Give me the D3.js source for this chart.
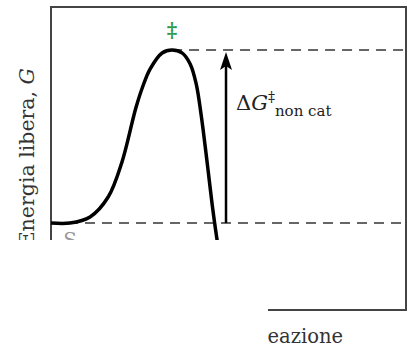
<!DOCTYPE html>
<html>
<head>
<meta charset="utf-8">
<script src="https://cdn.jsdelivr.net/npm/d3@7"></script>
<style>
    body { margin: 0; background: #fff; }
    svg { display: block; font-family: 'DejaVu Serif', 'Liberation Serif', serif; }
</style>
</head>
<body>
<div class="chart"></div>
<script>
// reaction coordinate (0-100) and free energy (S = 0, transition state = 100)
const coord = [0, 5.35, 11.0, 16.1, 20.0, 23.9, 25.9, 27.9, 31.3, 34.1, 36.9, 39.2, 40.9, 42.3, 43.9, 45.6, 47.0, 48.2];
const energy = [0, 0, 3.5, 15.0, 35.3, 66.5, 79.2, 89.0, 98.3, 100, 98.3, 91.9, 80.4, 62.4, 36.4, 7.5, -12.7, -27.2];
const levels = [0, 100];        // substrate level, transition state level
const arrowX = 49.3;            // where the ΔG arrow sits
const peakX = 34.1;

const W = 413, H = 354;
const x = d3.scaleLinear().domain([0, 100]).range([51, 406]);
const y = d3.scaleLinear().domain([0, 100]).range([223, 50]);

const svg = d3.select('.chart')
    .append('svg')
    .attr('width', W)
    .attr('height', H);

// the picture is cropped: everything below y=240 left of x=268 is gone
const clip = svg.append('defs').append('clipPath').attr('id', 'crop');
clip.append('rect').attr('x', 0).attr('y', 0).attr('width', W).attr('height', 240);
clip.append('rect').attr('x', 268).attr('y', 0).attr('width', W - 268).attr('height', H);

const g = svg.append('g').attr('clip-path', 'url(#crop)');

// frame
g.append('rect')
    .attr('x', x(0))
    .attr('y', 7)
    .attr('width', x(100) - x(0))
    .attr('height', 310 - 7)
    .attr('fill', 'none')
    .attr('stroke', '#444')
    .attr('stroke-width', 2);

// dashed energy levels
g.append('line')
    .attr('x1', x(0)).attr('x2', x(100))
    .attr('y1', y(levels[0])).attr('y2', y(levels[0]))
    .attr('stroke', '#666')
    .attr('stroke-width', 2)
    .attr('stroke-dasharray', '10,7');
g.append('line')
    .attr('x1', x(peakX)).attr('x2', x(100))
    .attr('y1', y(levels[1])).attr('y2', y(levels[1]))
    .attr('stroke', '#666')
    .attr('stroke-width', 2)
    .attr('stroke-dasharray', '10,7');

// energy profile
const line = d3.line()
    .x((d, i) => x(coord[i]))
    .y(d => y(d))
    .curve(d3.curveCatmullRom.alpha(0.5));
g.append('path')
    .attr('d', line(energy))
    .attr('fill', 'none')
    .attr('stroke', '#000')
    .attr('stroke-width', 3.5);

// ΔG arrow
g.append('line')
    .attr('x1', x(arrowX)).attr('x2', x(arrowX))
    .attr('y1', y(levels[0])).attr('y2', y(levels[1]) + 14)
    .attr('stroke', '#000')
    .attr('stroke-width', 2.5);
g.append('path')
    .attr('d', d3.line()([
        [x(arrowX), y(levels[1]) + 2],
        [x(arrowX) - 6, y(levels[1]) + 20],
        [x(arrowX), y(levels[1]) + 16],
        [x(arrowX) + 6, y(levels[1]) + 20]
    ]) + 'Z')
    .attr('fill', '#000');

// double dagger over the transition state
g.append('text')
    .attr('x', x(peakX))
    .attr('y', y(levels[1]) - 13)
    .attr('text-anchor', 'middle')
    .attr('fill', '#2e9a45')
    .style('font-size', '20px')
    .style('font-weight', 'bold')
    .text('‡');

// S label (mostly cropped)
g.append('text')
    .attr('x', 70)
    .attr('y', 247)
    .attr('text-anchor', 'middle')
    .attr('fill', '#999')
    .style('font-size', '20px')
    .text('S');

// ΔG‡ non cat
const lab = g.append('text')
    .attr('x', x(arrowX) + 10)
    .attr('y', 110)
    .attr('fill', '#222')
    .style('font-size', '21px');
lab.append('tspan').text('Δ');
lab.append('tspan').style('font-style', 'italic').text('G');
lab.append('tspan').attr('dy', -8).style('font-size', '14px').text('‡');
lab.append('tspan').attr('dy', 14).style('font-size', '15px').text('non cat');

// axis titles
const yl = g.append('text')
    .attr('transform', 'translate(34,68) rotate(-90)')
    .attr('text-anchor', 'end')
    .attr('fill', '#333')
    .style('font-size', '20.5px');
yl.append('tspan').text('Energia libera, ');
yl.append('tspan').style('font-style', 'italic').text('G');

g.append('text')
    .attr('x', 343)
    .attr('y', 343)
    .attr('text-anchor', 'end')
    .attr('fill', '#333')
    .style('font-size', '19.5px')
    .text('Coordinata di reazione');
</script>
</body>
</html>
